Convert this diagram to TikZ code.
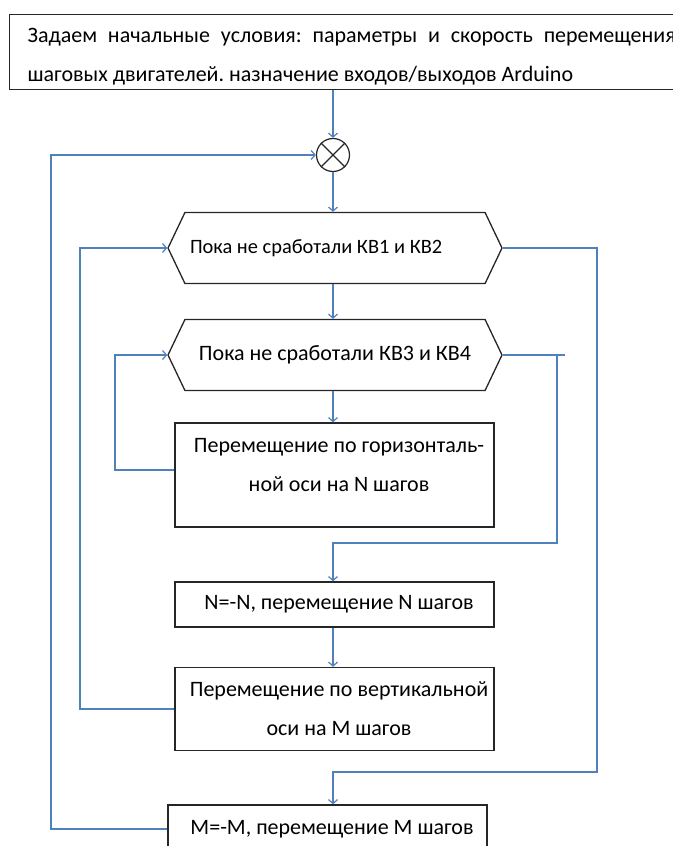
\documentclass[tikz,border=0pt]{standalone}
\usepackage{fontspec}
\setmainfont{Carlito}
\usetikzlibrary{arrows.meta,shapes.symbols}
\definecolor{flowblue}{HTML}{4F81BD}
\frenchspacing

\begin{document}
\begin{tikzpicture}[x=1pt,y=-1pt,
    font=\fontsize{22}{39}\selectfont,
    flow/.style={draw=flowblue,line width=1.2pt,-{Straight Barb[length=4pt,width=9pt]}},
    link/.style={draw=flowblue,line width=1.2pt},
    stepbox/.style={draw=black!85,line width=1.3pt,rectangle,inner sep=0pt,align=center},
    whilebox/.style={draw=black!85,line width=1.3pt,signal,signal to=west and east,
      signal pointer angle=129,inner sep=0pt,minimum width=334pt,minimum height=71pt}]
  \useasboundingbox (0,0) rectangle (672,846);

  % start conditions, the box runs off the right edge
  \node [stepbox,anchor=north west,inner xsep=18pt,text width=648pt,
    minimum height=75pt,align=justify,text height=15pt,text depth=34pt] (init) at (9,14)
    {Задаем начальные условия: параметры и скорость перемещения\linebreak
     шаговых двигателей. назначение входов/выходов Arduino};

  % the join point
  \node [draw=black!85,line width=1.2pt,circle,minimum size=33pt] (join) at (333,155) {};
  \draw [black!85,line width=1.2pt] (join.north west) -- (join.south east)
    (join.north east) -- (join.south west);

  % the two loop heads
  \node [whilebox,text width=290pt,align=flush left,font=\fontsize{20.4}{39}\selectfont]
    (kv12) at (335,248) {Пока не сработали КВ1 и КВ2};
  \node [whilebox,align=center] (kv34) at (335,355)
    {Пока не сработали КВ3 и КВ4};

  % the steps
  \node [stepbox,minimum width=319pt,minimum height=104pt,text height=38pt,text depth=5pt]
    (moveN) at (334.5,475)
    {\hspace*{9pt}Перемещение по горизонталь-\\\hspace*{9pt}ной оси на N шагов};
  \node [stepbox,minimum width=319pt,minimum height=45pt] (backN) at (334.5,604.5)
    {\hspace*{9pt}N=-N, перемещение N шагов};
  \node [stepbox,minimum width=319pt,minimum height=83pt] (moveM) at (334.5,709)
    {\hspace*{9pt}Перемещение по вертикальной\\\hspace*{9pt}оси на М шагов};
  \node [stepbox,minimum width=319pt,minimum height=48pt] (backM) at (327.5,829)
    {\hspace*{9pt}M=-M, перемещение M шагов};

  % loop corners
  \coordinate (outer) at (51,155);
  \coordinate (inner) at (80,248);
  \coordinate (inmost) at (115,355);
  \coordinate (exit12) at (597,772);
  \coordinate (exit34) at (557,543);
  \coordinate (moveNout) at ([yshift=5pt]moveN.west);

  % straight down
  \draw [flow] (join |- init.south) -- (join.north);
  \draw [flow] (join.south) -- (join |- kv12.north);
  \draw [flow] (join |- kv12.south) -- (join |- kv34.north);
  \draw [flow] (join |- kv34.south) -- (join |- moveN.north);
  \draw [flow] (join |- backN.south) -- (join |- moveM.north);

  % back to the loop heads
  \draw [flow] (backM.west) -- (backM.west -| outer) -- (outer) -- (join.west);
  \draw [flow] (moveM.west) -- (moveM.west -| inner) -- (inner) -- (kv12.west);
  \draw [flow] (moveNout) -- (moveNout -| inmost) -- (inmost) -- (kv34.west);

  % leaving the loops
  \draw [flow] (kv12.east) -| (exit12) -| (join |- backM.north);
  \draw [link] (kv34.east) -- ++(62,0);
  \draw [flow] (kv34.east -| exit34) -- (exit34) -| (join |- backN.north);
\end{tikzpicture}
\end{document}
